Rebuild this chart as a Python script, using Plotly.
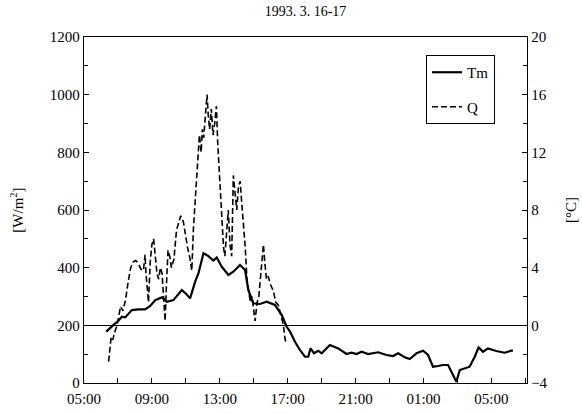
import plotly.graph_objects as go

# hours after 05:00 on 16 March
tm_hours = [1.31, 1.55, 1.84, 2.05, 2.23, 2.43, 2.62, 2.82, 3.21, 3.6, 3.9, 4.2, 4.59, 4.88,
            5.27, 5.5, 5.76, 6.0, 6.25, 6.55, 6.74, 7.04, 7.33, 7.62, 7.82, 8.12, 8.51, 8.8,
            9.19, 9.49, 9.68, 9.98, 10.37, 10.76, 11.25, 11.65, 11.94, 12.14, 12.43, 12.72,
            13.02, 13.21, 13.35, 13.55, 13.8, 14.0, 14.49, 14.98, 15.47, 15.76, 16.06, 16.35,
            16.74, 17.33, 17.82, 18.21, 18.51, 18.9, 19.19, 19.59, 19.98, 20.27, 20.56, 20.86,
            21.15, 21.45, 21.65, 21.94, 22.14, 22.43, 22.72, 23.02, 23.25, 23.51, 23.8, 24.29,
            24.78, 25.18, 25.27]
tm_values = [-0.44, -0.15, 0.14, 0.35, 0.6, 0.55, 0.8, 1.06, 1.1, 1.1, 1.34, 1.75, 1.94, 1.63,
             1.75, 2.1, 2.45, 2.2, 1.87, 3.03, 3.6, 5.0, 4.8, 4.5, 4.7, 4.06, 3.49, 3.72,
             4.18, 3.84, 2.45, 1.53, 1.48, 1.64, 1.41, 0.71, -0.1, -0.44, -1.14, -1.71,
             -2.18, -2.18, -1.59, -1.94, -1.76, -1.94, -1.37, -1.6, -1.99, -1.9, -1.99, -1.83,
             -1.99, -1.87, -2.06, -2.13, -1.94, -2.22, -2.34, -1.94, -1.76, -2.06, -2.87, -2.82,
             -2.75, -2.75, -3.22, -3.91, -3.1, -2.98, -2.87, -2.18, -1.53, -1.83, -1.6, -1.78,
             -1.9, -1.76, -1.76]

q_hours = [1.45, 1.5, 1.6, 1.7, 1.8, 1.95, 2.05, 2.15, 2.3, 2.45, 2.6, 2.75, 2.9, 3.05, 3.2,
           3.35, 3.5, 3.6, 3.65, 3.75, 3.8, 3.9, 4.0, 4.1, 4.2, 4.3, 4.4, 4.5, 4.6, 4.7, 4.78,
           4.85, 4.95, 5.05, 5.15, 5.3, 5.45, 5.6, 5.7, 5.85, 6.0, 6.1, 6.25, 6.35, 6.45, 6.55,
           6.65, 6.72, 6.8, 6.9, 6.97, 7.05, 7.15, 7.25, 7.32, 7.4, 7.5, 7.6, 7.7, 7.8, 7.88,
           7.95, 8.02, 8.1, 8.15, 8.22, 8.3, 8.4, 8.5, 8.6, 8.7, 8.8, 8.9, 9.0, 9.1, 9.2, 9.3,
           9.4, 9.5, 9.6, 9.7, 9.8, 9.9, 10.0, 10.08, 10.2, 10.3, 10.45, 10.57, 10.65, 10.75,
           10.85, 11.0, 11.15, 11.3, 11.45, 11.6, 11.75, 11.85, 11.9]
q_values = [74, 100, 160, 150, 175, 200, 230, 265, 250, 290, 350, 400, 420, 425, 415,
            395, 390, 445, 380, 300, 280, 420, 480, 500, 430, 380, 360, 400, 380, 300, 215,
            330, 460, 440, 400, 430, 530, 560, 580, 560, 500, 470, 430, 390, 540, 640,
            720, 800, 860, 800, 880, 850, 940, 1000, 930, 880, 950, 860, 900, 960, 830,
            760, 680, 600, 545, 470, 440, 520, 600, 480, 440, 720, 650, 600, 680, 700, 620,
            550, 470, 360, 320, 280, 300, 250, 215, 280, 300, 400, 480, 420, 360,
            370, 340, 320, 280, 270, 230, 200, 150, 140]

x_tick_vals = [0, 4, 8, 12, 16, 20, 24]
x_tick_text = ["05:00", "09:00", "13:00", "17:00", "21:00", "01:00", "05:00"]

title_text = "1993. 3. 16-17"
serif = "Liberation Serif, Times New Roman, serif"

fig = go.Figure()
fig.add_trace(go.Scatter(x=tm_hours, y=tm_values, name="Tm", yaxis="y2", mode="lines",
                         legendgroup="a",
                         line=dict(color="black", width=2.2)))
fig.add_trace(go.Scatter(x=q_hours, y=q_values, name="Q", mode="lines", legendgroup="b",
                         line=dict(color="black", width=1.6, dash="6px,3px")))

fig.update_layout(
    width=582, height=414,
    margin=dict(l=84, r=55, t=37, b=31, autoexpand=False),
    paper_bgcolor="white", plot_bgcolor="white",
    font=dict(family=serif, size=15, color="black"),
    title=dict(text=title_text, x=0.525, xanchor="center", y=0.985, yanchor="top",
               font=dict(size=14)),
    showlegend=True,
    legend=dict(x=0.772, y=0.948, xanchor="left", yanchor="top", bordercolor="black",
                borderwidth=1, bgcolor="white", itemwidth=30, font=dict(size=15),
                tracegroupgap=12),
    xaxis=dict(range=[0, 26.1], tickvals=x_tick_vals, ticktext=x_tick_text,
               ticks="inside", ticklen=5, tickcolor="black", showline=True, linecolor="black",
               linewidth=1.3, mirror=True, showgrid=False, zeroline=False, automargin=False,
               minor=dict(tick0=0, dtick=2, ticks="inside", ticklen=5, tickcolor="black"),
               ticklabelstandoff=2, tickfont=dict(size=15)),
    yaxis=dict(range=[0, 1200], dtick=200, ticks="inside", ticklen=5, tickcolor="black",
               showline=True, linecolor="black", linewidth=1.3, showgrid=False, zeroline=False,
               automargin=False,
               minor=dict(dtick=100, ticks="inside", ticklen=4, tickcolor="black"),
               title=dict(text="[W/m<sup>2</sup>]", standoff=22, font=dict(size=15)),
               tickfont=dict(size=15)),
    yaxis2=dict(range=[-4, 20], dtick=4, overlaying="y", side="right", ticks="inside",
                ticklen=5, tickcolor="black", showline=True, linecolor="black", linewidth=1.3,
                showgrid=False, zeroline=True, zerolinecolor="black", zerolinewidth=1.3,
                automargin=False,
                minor=dict(dtick=2, ticks="inside", ticklen=4, tickcolor="black"),
                title=dict(text="[°C]", standoff=18, font=dict(size=15)),
                tickfont=dict(size=15)),
)

fig.write_html("out.html")
